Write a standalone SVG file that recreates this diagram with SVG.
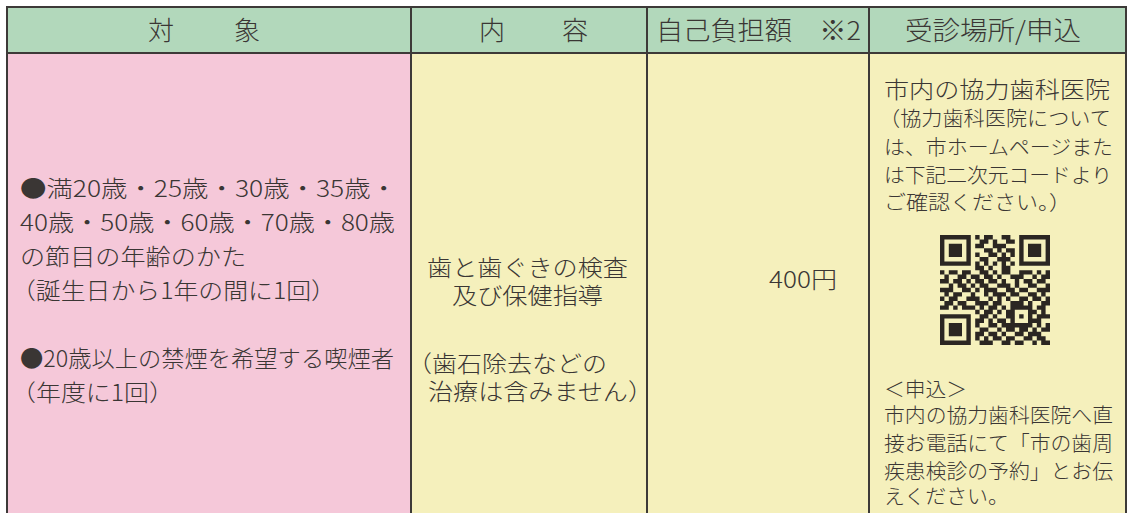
<svg xmlns="http://www.w3.org/2000/svg" width="1132" height="513" viewBox="0 0 1132 513">
<style>
text{font-family:"Noto Sans CJK JP","Noto Sans",sans-serif;fill:#3a3634;font-weight:300;}
.h{font-size:26px;}
.b{font-size:23px;}
.s{font-size:20px;}
.ln{stroke:#3d3a38;stroke-width:2;fill:none;}
</style>
<rect x="0" y="0" width="1132" height="513" fill="#ffffff"/>
<g id="header">
<g id="h-target"><rect x="6" y="7" width="405" height="46" fill="#b2d8bb"/><text class="h" x="148" y="40" textLength="112" lengthAdjust="spacing">対　　象</text></g>
<g id="h-content"><rect x="411" y="7" width="236" height="46" fill="#b2d8bb"/><text class="h" x="479" y="40" textLength="109" lengthAdjust="spacing">内　　容</text></g>
<g id="h-cost"><rect x="647" y="7" width="222" height="46" fill="#b2d8bb"/><text class="h" x="656" y="40" textLength="205" lengthAdjust="spacingAndGlyphs">自己負担額　※2</text></g>
<g id="h-place"><rect x="869" y="7" width="257" height="46" fill="#b2d8bb"/><text class="h" x="905" y="40" textLength="176" lengthAdjust="spacingAndGlyphs">受診場所/申込</text></g>
</g>
<g id="target">
<rect x="6" y="53" width="405" height="460" fill="#f5c8d9"/>
<text class="b" x="20" y="197" textLength="377" lengthAdjust="spacingAndGlyphs">●満20歳・25歳・30歳・35歳・</text>
<text class="b" x="20" y="231" textLength="375" lengthAdjust="spacingAndGlyphs">40歳・50歳・60歳・70歳・80歳</text>
<text class="b" x="20" y="265" textLength="226" lengthAdjust="spacingAndGlyphs">の節目の年齢のかた</text>
<text class="b" x="11" y="299" textLength="325" lengthAdjust="spacingAndGlyphs">（誕生日から1年の間に1回）</text>
<text class="b" x="20" y="367" textLength="374" lengthAdjust="spacingAndGlyphs">●20歳以上の禁煙を希望する喫煙者</text>
<text class="b" x="11" y="401" textLength="163" lengthAdjust="spacingAndGlyphs">（年度に1回）</text>
</g>
<g id="content">
<rect x="411" y="53" width="236" height="460" fill="#f5f0bc"/>
<text class="b" x="427" y="276" textLength="201" lengthAdjust="spacingAndGlyphs">歯と歯ぐきの検査</text>
<text class="b" x="452" y="304" textLength="151" lengthAdjust="spacingAndGlyphs">及び保健指導</text>
<text class="b" x="407" y="372" textLength="200" lengthAdjust="spacingAndGlyphs">（歯石除去などの</text>
<text class="b" x="428" y="400" textLength="225" lengthAdjust="spacingAndGlyphs">治療は含みません）</text>
</g>
<g id="cost">
<rect x="647" y="53" width="222" height="460" fill="#f5f0bc"/>
<text class="b" x="769" y="288" textLength="68" lengthAdjust="spacingAndGlyphs">400円</text>
</g>
<g id="place">
<rect x="869" y="53" width="257" height="460" fill="#f5f0bc"/>
<text class="b" x="884" y="98" textLength="226" lengthAdjust="spacingAndGlyphs">市内の協力歯科医院</text>
<text class="s" x="879" y="126" textLength="232" lengthAdjust="spacingAndGlyphs">（協力歯科医院について</text>
<text class="s" x="884" y="155" textLength="229" lengthAdjust="spacingAndGlyphs">は、市ホームページまた</text>
<text class="s" x="884" y="183" textLength="228" lengthAdjust="spacingAndGlyphs">は下記二次元コードより</text>
<text class="s" x="884" y="210" textLength="187" lengthAdjust="spacingAndGlyphs">ご確認ください。）</text>
<g id="qr" transform="translate(940,235) scale(4.4)" fill="#2b2622">
<path d="M0 0h7v1h-7zM8 0h1v1h-1zM10 0h2v1h-2zM14 0h2v1h-2zM18 0h7v1h-7zM0 1h1v1h-1zM6 1h1v1h-1zM9 1h2v1h-2zM12 1h1v1h-1zM15 1h2v1h-2zM18 1h1v1h-1zM24 1h1v1h-1zM0 2h1v1h-1zM2 2h3v1h-3zM6 2h1v1h-1zM8 2h2v1h-2zM12 2h3v1h-3zM18 2h1v1h-1zM20 2h3v1h-3zM24 2h1v1h-1zM0 3h1v1h-1zM2 3h3v1h-3zM6 3h1v1h-1zM10 3h2v1h-2zM13 3h1v1h-1zM15 3h2v1h-2zM18 3h1v1h-1zM20 3h3v1h-3zM24 3h1v1h-1zM0 4h1v1h-1zM2 4h3v1h-3zM6 4h1v1h-1zM8 4h1v1h-1zM11 4h2v1h-2zM14 4h1v1h-1zM16 4h1v1h-1zM18 4h1v1h-1zM20 4h3v1h-3zM24 4h1v1h-1zM0 5h1v1h-1zM6 5h1v1h-1zM9 5h2v1h-2zM13 5h3v1h-3zM18 5h1v1h-1zM24 5h1v1h-1zM0 6h7v1h-7zM8 6h1v1h-1zM10 6h1v1h-1zM12 6h1v1h-1zM14 6h1v1h-1zM16 6h1v1h-1zM18 6h7v1h-7zM8 7h2v1h-2zM11 7h1v1h-1zM14 7h2v1h-2zM0 8h1v1h-1zM2 8h2v1h-2zM5 8h2v1h-2zM9 8h2v1h-2zM12 8h1v1h-1zM14 8h2v1h-2zM18 8h3v1h-3zM22 8h1v1h-1zM24 8h1v1h-1zM1 9h1v1h-1zM4 9h2v1h-2zM7 9h2v1h-2zM10 9h2v1h-2zM13 9h1v1h-1zM16 9h3v1h-3zM21 9h1v1h-1zM23 9h2v1h-2zM0 10h2v1h-2zM3 10h2v1h-2zM6 10h1v1h-1zM8 10h2v1h-2zM11 10h2v1h-2zM14 10h1v1h-1zM17 10h1v1h-1zM19 10h2v1h-2zM22 10h2v1h-2zM2 11h1v1h-1zM4 11h2v1h-2zM7 11h1v1h-1zM9 11h2v1h-2zM13 11h3v1h-3zM17 11h1v1h-1zM20 11h2v1h-2zM24 11h1v1h-1zM0 12h3v1h-3zM5 12h2v1h-2zM8 12h1v1h-1zM10 12h3v1h-3zM15 12h2v1h-2zM18 12h2v1h-2zM22 12h3v1h-3zM1 13h1v1h-1zM3 13h2v1h-2zM7 13h1v1h-1zM10 13h1v1h-1zM12 13h3v1h-3zM16 13h2v1h-2zM20 13h2v1h-2zM23 13h1v1h-1zM0 14h1v1h-1zM2 14h2v1h-2zM6 14h3v1h-3zM11 14h1v1h-1zM13 14h1v1h-1zM15 14h1v1h-1zM18 14h2v1h-2zM21 14h2v1h-2zM24 14h1v1h-1zM1 15h2v1h-2zM4 15h2v1h-2zM8 15h3v1h-3zM12 15h2v1h-2zM16 15h3v1h-3zM20 15h1v1h-1zM23 15h2v1h-2zM0 16h2v1h-2zM3 16h1v1h-1zM5 16h3v1h-3zM9 16h1v1h-1zM11 16h2v1h-2zM14 16h1v1h-1zM16 16h5v1h-5zM22 16h2v1h-2zM8 17h1v1h-1zM10 17h2v1h-2zM13 17h1v1h-1zM15 17h2v1h-2zM20 17h2v1h-2zM23 17h1v1h-1zM0 18h7v1h-7zM9 18h2v1h-2zM12 18h1v1h-1zM15 18h2v1h-2zM18 18h1v1h-1zM20 18h1v1h-1zM22 18h3v1h-3zM0 19h1v1h-1zM6 19h1v1h-1zM8 19h2v1h-2zM11 19h1v1h-1zM13 19h2v1h-2zM16 19h1v1h-1zM20 19h3v1h-3zM0 20h1v1h-1zM2 20h3v1h-3zM6 20h1v1h-1zM8 20h1v1h-1zM11 20h2v1h-2zM14 20h7v1h-7zM22 20h1v1h-1zM24 20h1v1h-1zM0 21h1v1h-1zM2 21h3v1h-3zM6 21h1v1h-1zM9 21h2v1h-2zM13 21h1v1h-1zM15 21h2v1h-2zM18 21h2v1h-2zM21 21h1v1h-1zM23 21h2v1h-2zM0 22h1v1h-1zM2 22h3v1h-3zM6 22h1v1h-1zM8 22h2v1h-2zM11 22h2v1h-2zM14 22h1v1h-1zM17 22h2v1h-2zM20 22h3v1h-3zM0 23h1v1h-1zM6 23h1v1h-1zM8 23h1v1h-1zM10 23h1v1h-1zM12 23h2v1h-2zM15 23h2v1h-2zM19 23h2v1h-2zM22 23h2v1h-2zM0 24h7v1h-7zM9 24h3v1h-3zM14 24h2v1h-2zM17 24h2v1h-2zM21 24h1v1h-1zM23 24h2v1h-2z"/>
</g>
<text class="s" x="884" y="397" textLength="83" lengthAdjust="spacingAndGlyphs">＜申込＞</text>
<text class="s" x="884" y="423" textLength="229" lengthAdjust="spacingAndGlyphs">市内の協力歯科医院へ直</text>
<text class="s" x="884" y="451" textLength="229" lengthAdjust="spacingAndGlyphs">接お電話にて「市の歯周</text>
<text class="s" x="884" y="479" textLength="229" lengthAdjust="spacingAndGlyphs">疾患検診の予約」とお伝</text>
<text class="s" x="884" y="504" textLength="125" lengthAdjust="spacingAndGlyphs">えください。</text>
</g>
<g id="grid">
<path class="ln" d="M6 7H1126M6 53H1126M7 6V513M1126 6V513M411 7V513M647 7V513M869 7V513"/>
</g>
</svg>
